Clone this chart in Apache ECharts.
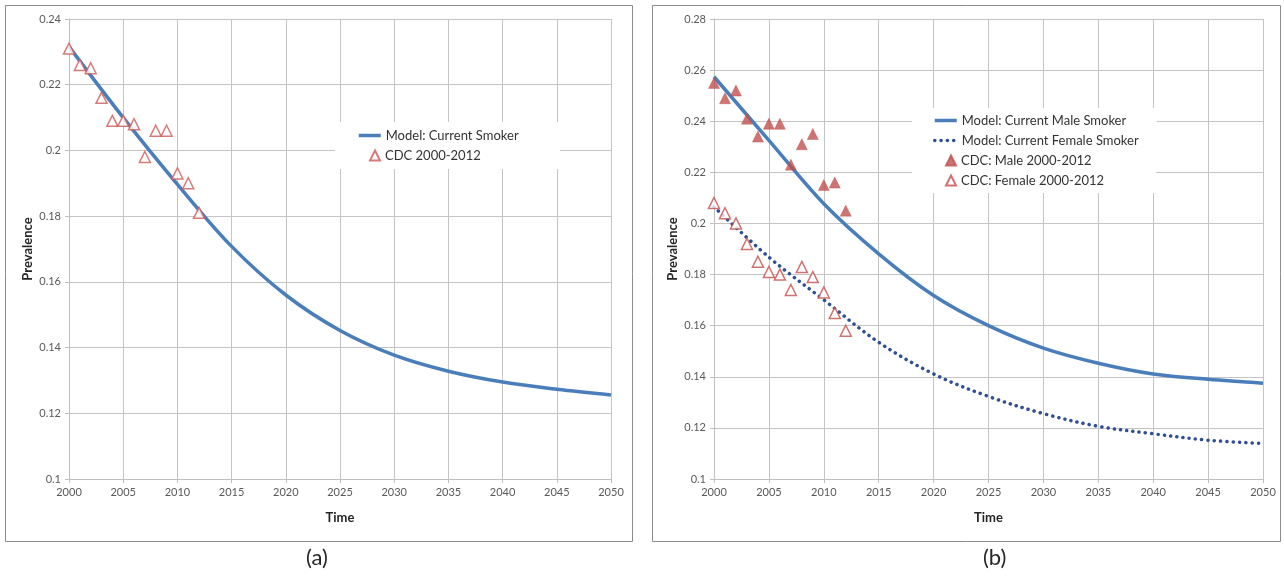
<!DOCTYPE html>
<html>
<head>
<meta charset="utf-8">
<script src="https://cdn.jsdelivr.net/npm/echarts@6/dist/echarts.min.js"></script>
<style>
  html, body { margin: 0; padding: 0; background: #ffffff; }
  #chart { width: 1284px; height: 581px; }
</style>
</head>
<body>
<div id="chart"></div>
<script>
// ---- Data ----
const cdcYears = [2000, 2001, 2002, 2003, 2004, 2005, 2006, 2007, 2008, 2009, 2010, 2011, 2012];
const cdcAll    = [0.231, 0.226, 0.225, 0.216, 0.209, 0.209, 0.208, 0.198, 0.206, 0.206, 0.193, 0.190, 0.181];
const cdcMale   = [0.255, 0.249, 0.252, 0.241, 0.234, 0.239, 0.239, 0.223, 0.231, 0.235, 0.215, 0.216, 0.205];
const cdcFemale = [0.208, 0.204, 0.200, 0.192, 0.185, 0.181, 0.180, 0.174, 0.183, 0.179, 0.173, 0.165, 0.158];

const modelYears  = [2000, 2005, 2010, 2015, 2020, 2025, 2030, 2035, 2040, 2045, 2050];
const modelAll    = [0.2316, 0.2100, 0.1897, 0.1708, 0.1560, 0.1452, 0.1377, 0.1328, 0.1295, 0.1273, 0.1256];
const modelMale   = [0.2574, 0.2325, 0.2077, 0.1881, 0.1718, 0.1600, 0.1512, 0.1453, 0.1411, 0.1390, 0.1375];
const modelFemale = [0.2065, 0.1868, 0.1701, 0.1535, 0.1411, 0.1323, 0.1256, 0.1206, 0.1177, 0.1152, 0.1139];

const panelLabels = ['(a)', '(b)'];
const xAxisTitle = 'Time';
const yAxisTitle = 'Prevalence';

// ---- Styles ----
const FONT = 'Lato, "Open Sans", sans-serif';
const BLUE = '#4a7ebb';
const NAVY = '#2f4f93';
const RED = '#c0504d';
const GRID = '#c4c4c4';
const LABEL = '#595959';

const pair = (xs, ys) => xs.map((x, i) => [x, ys[i]]);

function xAxis(gridIndex) {
  return {
    type: 'value', gridIndex, min: 2000, max: 2050, interval: 5,
    name: xAxisTitle, nameLocation: 'middle', nameGap: 32,
    nameTextStyle: { fontFamily: FONT, fontWeight: 'bold', fontSize: 13, color: '#262626' },
    axisLine: { show: true, lineStyle: { color: '#bfbfbf' } },
    axisTick: { show: true, length: 4, lineStyle: { color: '#bfbfbf' } },
    axisLabel: { fontFamily: FONT, fontSize: 11, color: LABEL, margin: 8, formatter: v => String(v) },
    splitLine: { show: true, lineStyle: { color: GRID, width: 1 } }
  };
}
function yAxis(gridIndex, min, max) {
  return {
    type: 'value', gridIndex, min, max, interval: 0.02,
    name: yAxisTitle, nameLocation: 'middle', nameGap: 35,
    nameTextStyle: { fontFamily: FONT, fontWeight: 'bold', fontSize: 13, color: '#262626' },
    axisLine: { show: true, lineStyle: { color: '#bfbfbf' } },
    axisTick: { show: true, length: 4, lineStyle: { color: '#bfbfbf' } },
    axisLabel: { fontFamily: FONT, fontSize: 11, color: LABEL, margin: 8,
      formatter: v => String(Math.round(v * 100) / 100) },
    splitLine: { show: true, lineStyle: { color: GRID, width: 1 } }
  };
}

function legend(left, top, padding, itemWidth, textWidth, names) {
  return {
    orient: 'vertical', left, top, padding, itemGap: 5, itemWidth, itemHeight: 10,
    backgroundColor: '#ffffff',
    lineStyle: { width: 3.5 },
    textStyle: { fontFamily: FONT, fontSize: 13, color: '#333', lineHeight: 15, width: textWidth },
    data: names
  };
}

const chart = echarts.init(document.getElementById('chart'), null, { renderer: 'canvas' });

const hideSym = { opacity: 0 };
const option = {
  backgroundColor: '#ffffff',
  animation: false,
  grid: [
    { left: 69, top: 19, width: 542, height: 460 },
    { left: 714, top: 19, width: 549, height: 460 }
  ],
  xAxis: [xAxis(0), xAxis(1)],
  yAxis: [yAxis(0, 0.1, 0.24), yAxis(1, 0.1, 0.28)],
  legend: [
    legend(335, 122, [6, 25, 0, 22], 22, 150,
      [{ name: 'Model: Current Smoker', itemStyle: hideSym }]),
    legend(335, 143, [5, 25, 6, 34], 10, 150,
      [{ name: 'CDC 2000-2012' }]),
    legend(912, 108, [5, 10, 0, 21], 22, 185,
      [{ name: 'Model: Current Male Smoker', itemStyle: hideSym },
       { name: 'Model: Current Female Smoker', itemStyle: hideSym }]),
    legend(912, 148, [5, 10, 5, 33], 10, 185,
      [{ name: 'CDC: Male 2000-2012' }, { name: 'CDC: Female 2000-2012' }])
  ],
  graphic: [
    { type: 'rect', shape: { x: 5.5, y: 5.5, width: 627, height: 536 }, style: { fill: 'none', stroke: '#8c8c8c', lineWidth: 1 }, z: 100, silent: true },
    { type: 'rect', shape: { x: 652.5, y: 5.5, width: 628, height: 536 }, style: { fill: 'none', stroke: '#8c8c8c', lineWidth: 1 }, z: 100, silent: true },
    { type: 'text', left: 306, top: 547, style: { text: panelLabels[0], font: '22px ' + FONT, fill: '#262626' } },
    { type: 'text', left: 983, top: 547, style: { text: panelLabels[1], font: '22px ' + FONT, fill: '#262626' } }
  ],
  series: [
    {
      name: 'Model: Current Smoker', type: 'line', xAxisIndex: 0, yAxisIndex: 0,
      data: pair(modelYears, modelAll), smooth: 0.35,
      symbol: 'none', lineStyle: { color: BLUE, width: 3.5 }, itemStyle: { color: BLUE }, z: 2
    },
    {
      name: 'CDC 2000-2012', type: 'scatter', xAxisIndex: 0, yAxisIndex: 0,
      data: pair(cdcYears, cdcAll), symbol: 'triangle', symbolSize: 11,
      itemStyle: { color: '#ffffff', borderColor: '#cc5a57', borderWidth: 1.5 }, z: 3
    },
    {
      name: 'Model: Current Male Smoker', type: 'line', xAxisIndex: 1, yAxisIndex: 1,
      data: pair(modelYears, modelMale), smooth: 0.35,
      symbol: 'none', lineStyle: { color: BLUE, width: 3.5 }, itemStyle: { color: BLUE }, z: 2
    },
    {
      name: 'Model: Current Female Smoker', type: 'line', xAxisIndex: 1, yAxisIndex: 1,
      data: pair(modelYears, modelFemale), smooth: 0.35,
      symbol: 'none', lineStyle: { color: NAVY, width: 3.5, type: [0.1, 6.2], cap: 'round' },
      itemStyle: { color: NAVY }, z: 2
    },
    {
      name: 'CDC: Male 2000-2012', type: 'scatter', xAxisIndex: 1, yAxisIndex: 1,
      data: pair(cdcYears, cdcMale), symbol: 'triangle', symbolSize: 11,
      itemStyle: { color: RED, borderColor: RED, borderWidth: 0.5 }, z: 3
    },
    {
      name: 'CDC: Female 2000-2012', type: 'scatter', xAxisIndex: 1, yAxisIndex: 1,
      data: pair(cdcYears, cdcFemale), symbol: 'triangle', symbolSize: 11,
      itemStyle: { color: '#ffffff', borderColor: RED, borderWidth: 1.5 }, z: 3
    }
  ]
};
chart.setOption(option);
</script>
</body>
</html>
